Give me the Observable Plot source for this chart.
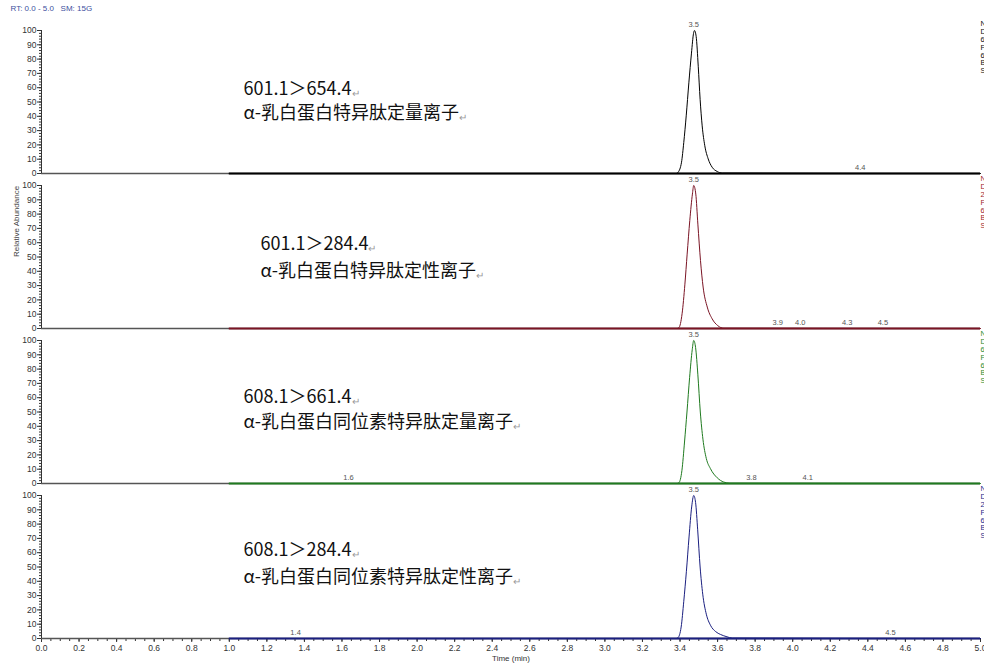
<!DOCTYPE html>
<html><head><meta charset="utf-8">
<script src="https://cdn.jsdelivr.net/npm/d3@7"></script>
<script src="https://cdn.jsdelivr.net/npm/@observablehq/plot@0.6"></script>
<style>
html,body{margin:0;padding:0;background:#fff;}
#chart{width:984px;height:668px;overflow:hidden;}
</style></head><body><div id="chart"></div>
<script>
// ---- data ----
const panelIds = [0, 1, 2, 3];
const traceColors = ["#000000", "#7a1424", "#1f7a1f", "#1a1f80"];
const sideColors = ["#111111", "#a0262c", "#2e8b2e", "#1f2a8a"];

const time1 = [1.00, 3.380, 3.390, 3.408, 3.420, 3.433, 3.447, 3.461, 3.472, 3.477, 3.486, 3.497, 3.507, 3.518, 3.532, 3.550, 3.571, 3.598, 3.625, 5.00];
const abund1 = [0, 0, 0.9, 7.9, 21.7, 40.3, 63.4, 84.2, 98.0, 100, 95.8, 75.0, 51.9, 33.3, 19.4, 10.2, 4.4, 1.4, 0.3, 0];
const time2 = [1.00, 3.385, 3.394, 3.411, 3.426, 3.438, 3.452, 3.466, 3.473, 3.484, 3.495, 3.509, 3.523, 3.545, 3.571, 3.601, 3.633, 5.00];
const abund2 = [0, 0, 0.5, 10.3, 31.0, 52.0, 75.5, 94.0, 100, 94.0, 73.0, 47.5, 29.0, 15.0, 6.8, 2.0, 0.2, 0];
const time3 = [1.00, 3.385, 3.394, 3.410, 3.424, 3.437, 3.451, 3.465, 3.473, 3.483, 3.495, 3.508, 3.522, 3.540, 3.562, 3.598, 3.633, 3.665, 5.00];
const abund3 = [0, 0, 0.5, 9.0, 29.0, 50.0, 74.0, 93.5, 100, 95.0, 76.0, 50.0, 31.0, 17.5, 10.4, 4.0, 1.0, 0.2, 0];
const time4 = [1.00, 3.380, 3.389, 3.406, 3.420, 3.434, 3.448, 3.462, 3.473, 3.483, 3.494, 3.507, 3.521, 3.540, 3.562, 3.590, 3.616, 3.650, 3.678, 5.00];
const abund4 = [0, 0, 0.5, 8.0, 26.0, 47.0, 71.0, 92.0, 100, 95.0, 76.0, 50.0, 31.0, 17.0, 9.3, 4.8, 2.8, 1.2, 0.3, 0];

const peakTimes = [3.473, 3.473, 3.473, 3.473];
const peakLabels = ["3.5", "3.5", "3.5", "3.5"];

const minorPanel = [0, 1, 1, 1, 1, 2, 2, 2, 3, 3];
const minorTime = [4.36, 3.92, 4.04, 4.29, 4.48, 1.635, 3.78, 4.08, 1.353, 4.52];
const minorText = ["4.4", "3.9", "4.0", "4.3", "4.5", "1.6", "3.8", "4.1", "1.4", "4.5"];

const transitions = ["601.1＞654.4↵", "601.1＞284.4↵", "608.1＞661.4↵", "608.1＞284.4↵"];
const descriptions = ["α-乳白蛋白特异肽定量离子↵", "α-乳白蛋白特异肽定性离子↵", "α-乳白蛋白同位素特异肽定量离子↵", "α-乳白蛋白同位素特异肽定性离子↵"];

const sideLetters = [
  ["N", "D", "6", "F", "6", "B", "S"],
  ["N", "D", "2", "F", "6", "B", "S"],
  ["N", "D", "6", "F", "6", "B", "S"],
  ["N", "D", "2", "F", "6", "B", "S"]
];

const headerText = "RT: 0.0 - 5.0   SM: 15G";
const xLabel = "Time (min)";
const yLabel = "Relative Abundance";

// annotation anchors (data coordinates)
const annotTime = [1.076, 1.166, 1.076, 1.076];
const annotLine1 = [59.0, 58.8, 60.0, 61.8];
const annotLine2 = [42.4, 40.0, 42.6, 43.0];

// ---- build tables ----
const times = [time1, time2, time3, time4];
const abunds = [abund1, abund2, abund3, abund4];
const traceRows = panelIds.flatMap(p => times[p].map((t, i) => ({panel: p, t, v: abunds[p][i]})));
const baseRows = panelIds.map(p => ({panel: p, t1: times[p][0], t2: times[p][times[p].length - 1]}));
const peakRows = panelIds.map(p => ({panel: p, t: peakTimes[p], v: d3.max(abunds[p]), label: peakLabels[p]}));
const minorRows = minorPanel.map((p, i) => ({panel: p, t: minorTime[i], label: minorText[i]}));
const annotRows = panelIds.map(p => ({panel: p, t: annotTime[p], v1: annotLine1[p], v2: annotLine2[p], l1: transitions[p], l2: descriptions[p]}));
const panelRows = panelIds.map(p => ({panel: p}));

const cjk = "Noto Sans CJK SC, Noto Sans, sans-serif";

const plot = Plot.plot({
  width: 984,
  height: 668,
  marginLeft: 41,
  marginRight: 4,
  marginTop: 29,
  marginBottom: 28,
  style: {fontFamily: "Liberation Sans, Arial, sans-serif", fontSize: "8.5px", color: "#333", background: "#fff", overflow: "visible"},
  x: {domain: [0, 5]},
  y: {domain: [0, 100]},
  fy: {domain: panelIds, paddingInner: 0.075, paddingOuter: 0, axis: null},
  color: {type: "identity"},
  marks: [
    Plot.axisY({ticks: d3.range(0, 101, 2), tickSize: 2, tickFormat: () => "", label: null}),
    Plot.axisY({ticks: d3.range(0, 101, 10), tickSize: 4, tickPadding: 1, label: null, fontSize: 8.5}),
    Plot.axisX({ticks: d3.range(0, 5.001, 0.05), tickSize: 3, tickFormat: () => "", label: null}),
    Plot.axisX({ticks: d3.range(0, 5.001, 0.2), tickSize: 4, tickPadding: 2, tickFormat: d3.format(".1f"), label: null, fontSize: 8.5}),
    Plot.ruleY([0], {stroke: "#555", strokeWidth: 1.5}),
    Plot.ruleX([0], {y1: 0, y2: 100, stroke: "#333", strokeWidth: 1}),
    Plot.ruleY(baseRows, {y: 0, x1: "t1", x2: "t2", fy: "panel", stroke: d => traceColors[d.panel], strokeWidth: 2}),
    Plot.line(traceRows, {x: "t", y: "v", z: "panel", fy: "panel", stroke: d => traceColors[d.panel], strokeWidth: 1, curve: "monotone-x"}),
    Plot.text(peakRows, {x: "t", y: "v", fy: "panel", text: "label", dy: -6, fill: "#555", fontSize: 7.5}),
    Plot.text(minorRows, {x: "t", y: 0, fy: "panel", text: "label", dy: -6, fill: "#555", fontSize: 7.5}),
    Plot.text(annotRows, {x: "t", y: "v1", fy: "panel", text: "l1", textAnchor: "start", fontSize: 18, fontFamily: cjk, fill: "#111"}),
    Plot.text(annotRows, {x: "t", y: "v2", fy: "panel", text: "l2", textAnchor: "start", fontSize: 18, fontFamily: cjk, fill: "#111"}),
    Plot.text(panelRows, {frameAnchor: "top-right", fy: "panel", text: d => sideLetters[d.panel].join("\n"), textAnchor: "start", lineAnchor: "top", dx: 0, dy: -10, lineHeight: 1.05, fontSize: 7.5, fill: d => sideColors[d.panel]}),
    Plot.text(panelRows.filter(d => d.panel === 0), {frameAnchor: "top-left", fy: "panel", text: () => headerText, textAnchor: "start", lineAnchor: "middle", dx: -31, dy: -22, fill: "#3d4f9e", fontSize: 8}),
    Plot.text(panelRows.filter(d => d.panel === 1), {frameAnchor: "left", fy: "panel", text: () => yLabel, rotate: -90, dx: -25, fill: "#444", fontSize: 8}),
    Plot.text(panelRows.filter(d => d.panel === 3), {frameAnchor: "bottom", fy: "panel", text: () => xLabel, dy: 22, fill: "#333", fontSize: 8})
  ]
});

// paragraph marks drawn small and grey
d3.select(plot).selectAll("text").each(function() {
  const el = this;
  if (el.childElementCount === 0 && el.textContent.endsWith("↵")) {
    const s = el.textContent.slice(0, -1);
    el.textContent = s;
    const ts = document.createElementNS("http://www.w3.org/2000/svg", "tspan");
    ts.textContent = "↵";
    ts.setAttribute("fill", "#9a9a9a");
    ts.setAttribute("font-size", "10px");
    ts.setAttribute("dy", "2");
    el.appendChild(ts);
  }
});

document.getElementById("chart").appendChild(plot);
</script>
</body></html>
